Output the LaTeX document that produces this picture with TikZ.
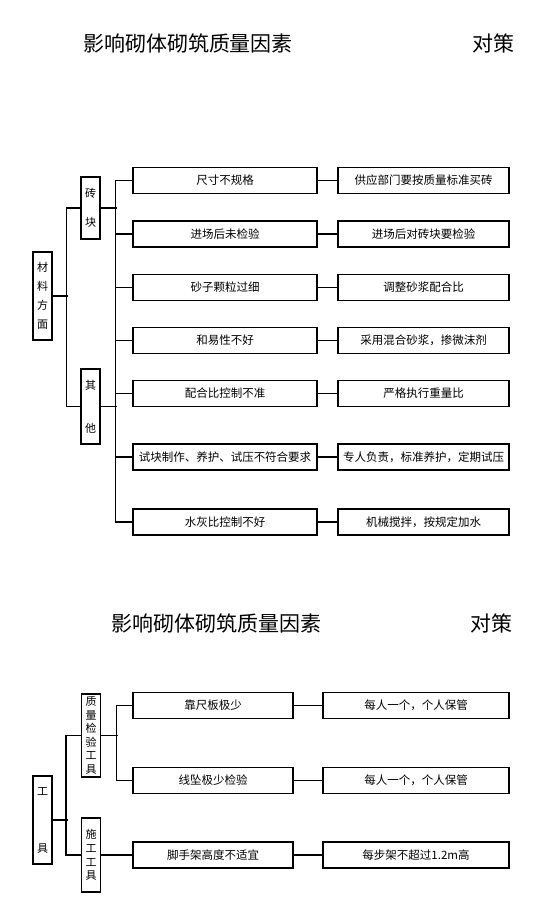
\documentclass[tikz,border=0pt]{standalone}
\usepackage{fontspec}
\setmainfont{Noto Sans CJK SC}

\begin{document}
\begin{tikzpicture}[x=1pt,y=-1pt,
  fbox/.style={draw,line width=1.3pt,minimum height=26pt,inner sep=0pt,font=\fontsize{11.5}{12}\selectfont},
  vbox/.style={draw,line width=1.3pt,minimum width=19pt,inner sep=0pt,align=center},
  ttl/.style={font=\fontsize{21}{22}\selectfont},
  wire/.style={line width=1.3pt}]
 \useasboundingbox (0,0) rectangle (555,911);
 % upper part
 \node[ttl] (t1) at (188,43) {影响砌体砌筑质量因素};
 \node[ttl] (c1) at (493,43) {对策};
 \node[vbox,minimum height=88pt,font=\fontsize{11}{19}\selectfont] (mat) at (42.5,296) {材\\料\\方\\面};
 \node[vbox,minimum height=62pt,font=\fontsize{11}{29}\selectfont] (brick) at (90.5,208) {砖\\块};
 \node[vbox,minimum height=75pt,font=\fontsize{11}{43}\selectfont] (other) at (90.5,406.5) {其\\他};
 \foreach \n/\y/\a/\b in {1/180.5/{尺寸不规格}/{供应部门要按质量标准买砖},
   2/234/{进场后未检验}/{进场后对砖块要检验},
   3/287.5/{砂子颗粒过细}/{调整砂浆配合比},
   4/340.5/{和易性不好}/{采用混合砂浆，掺微沫剂},
   5/393.5/{配合比控制不准}/{严格执行重量比},
   6/457/{试块制作、养护、试压不符合要求}/{专人负责，标准养护，定期试压},
   7/522/{水灰比控制不好}/{机械搅拌，按规定加水}}{
   \node[fbox,minimum width=184pt] (l\n) at (225,\y) {\a};
   \node[fbox,minimum width=171pt] (r\n) at (423.5,\y) {\b};
   \draw[wire] (l\n) -- (r\n);
 }
 \draw[wire] (mat.east) -- ++(15,0);
 \draw[wire] (brick.west) -- ++(-14,0) |- (other.west);
 \draw[wire] (brick.east) -- ++(16,0);
 \draw[wire] (other.east) -- ++(16,0);
 \draw[wire] (l1.west) -- ++(-17,0) |- (l7.west);
 \foreach \n in {2,...,6} \draw[wire] (l\n.west) -- ++(-17,0);
 % lower part
 \node[ttl] (t2) at (216,623) {影响砌体砌筑质量因素};
 \node[ttl] (c2) at (491,623) {对策};
 \node[vbox,minimum height=88pt,font=\fontsize{11}{57}\selectfont] (tool) at (42.5,820) {工\\具};
 \node[vbox,minimum height=83pt,font=\fontsize{11}{13.5}\selectfont] (qc) at (91,735.5) {质\\量\\检\\验\\工\\具};
 \node[vbox,minimum height=74pt,font=\fontsize{11}{13.7}\selectfont] (sg) at (91,855) {施\\工\\工\\具};
 \foreach \n/\y/\a/\b in {a/705.5/{靠尺板极少}/{每人一个，个人保管},
   b/780.5/{线坠极少检验}/{每人一个，个人保管},
   c/855/{脚手架高度不适宜}/{每步架不超过1.2m高}}{
   \node[fbox,minimum width=160pt] (l\n) at (213,\y) {\a};
   \node[fbox,minimum width=186pt] (r\n) at (416,\y) {\b};
   \draw[wire] (l\n) -- (r\n);
 }
 \draw[wire] (tool.east) -- ++(15,0);
 \draw[wire] (qc.west) -- ++(-15,0) |- (sg.west);
 \draw[wire] (qc.east) -- ++(17,0);
 \draw[wire] (la.west) -- ++(-16,0) |- (lb.west);
 \draw[wire] (sg) -- (lc);
\end{tikzpicture}
\end{document}
